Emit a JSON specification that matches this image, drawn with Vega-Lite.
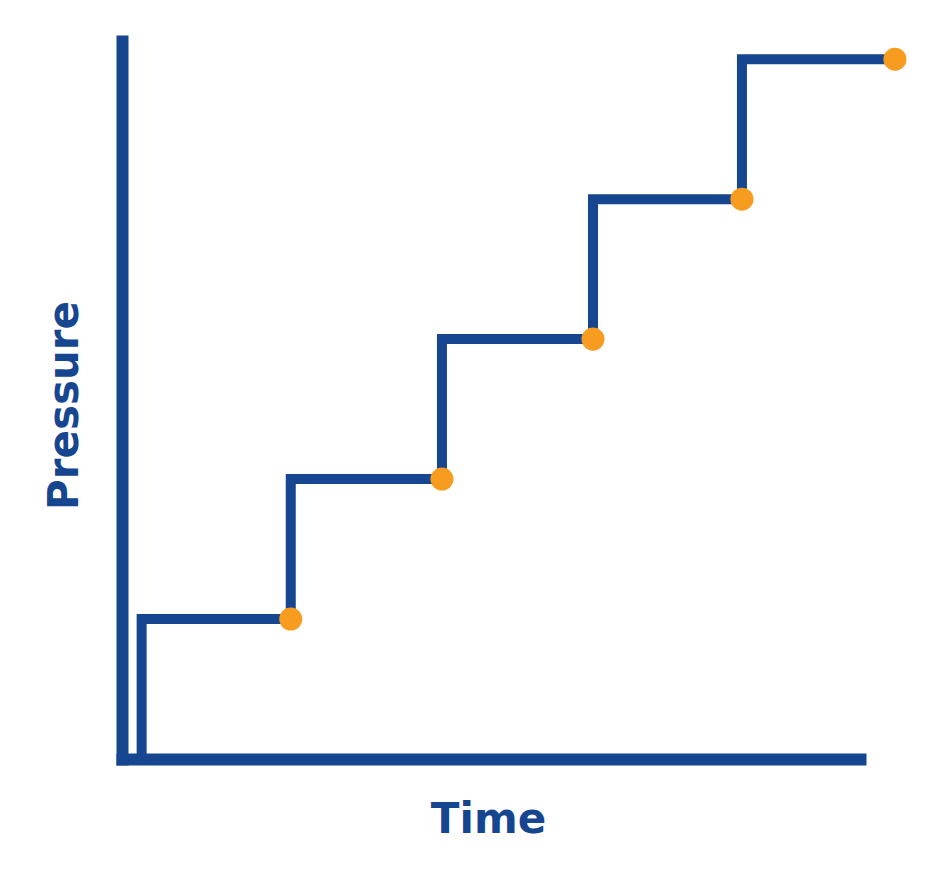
{
  "$schema": "https://vega.github.io/schema/vega-lite/v6.json",
  "autosize": {"type": "none"},
  "width": 738,
  "height": 718,
  "padding": {"left": 122, "top": 41, "right": 84, "bottom": 131},
  "background": "white",
  "config": {
    "view": {"stroke": null},
    "axis": {
      "grid": false,
      "ticks": false,
      "labels": false,
      "domainColor": "#15468F",
      "domainWidth": 12,
      "domainCap": "square",
      "titleColor": "#15468F",
      "titleFont": "DejaVu Sans",
      "titleFontWeight": "bold",
      "titleFontSize": 42,
      "titleBaseline": "alphabetic",
      "titleAlign": "center"
    }
  },
  "data": {
    "values": [
      {"time": 0.131, "pressure": 0},
      {"time": 1.125, "pressure": 1},
      {"time": 2.133, "pressure": 2},
      {"time": 3.14, "pressure": 3},
      {"time": 4.133, "pressure": 4},
      {"time": 5.153, "pressure": 5}
    ]
  },
  "encoding": {
    "x": {
      "field": "time",
      "type": "quantitative",
      "scale": {"domain": [0, 4.92], "nice": false, "zero": false},
      "axis": {"title": "Time", "titleX": 366, "titleY": 73}
    },
    "y": {
      "field": "pressure",
      "type": "quantitative",
      "scale": {"domain": [0, 5.13], "nice": false, "zero": false},
      "axis": {"title": "Pressure", "titleX": -45, "titleY": 364, "titleAngle": -90}
    }
  },
  "layer": [
    {
      "mark": {
        "type": "line",
        "interpolate": "step-before",
        "color": "#15468F",
        "strokeWidth": 10,
        "strokeJoin": "miter",
        "strokeCap": "butt",
        "clip": false
      }
    },
    {
      "transform": [{"filter": "datum.pressure > 0"}],
      "mark": {
        "type": "point",
        "filled": true,
        "opacity": 1,
        "color": "#F79C1F",
        "size": 530,
        "clip": false
      }
    }
  ]
}
